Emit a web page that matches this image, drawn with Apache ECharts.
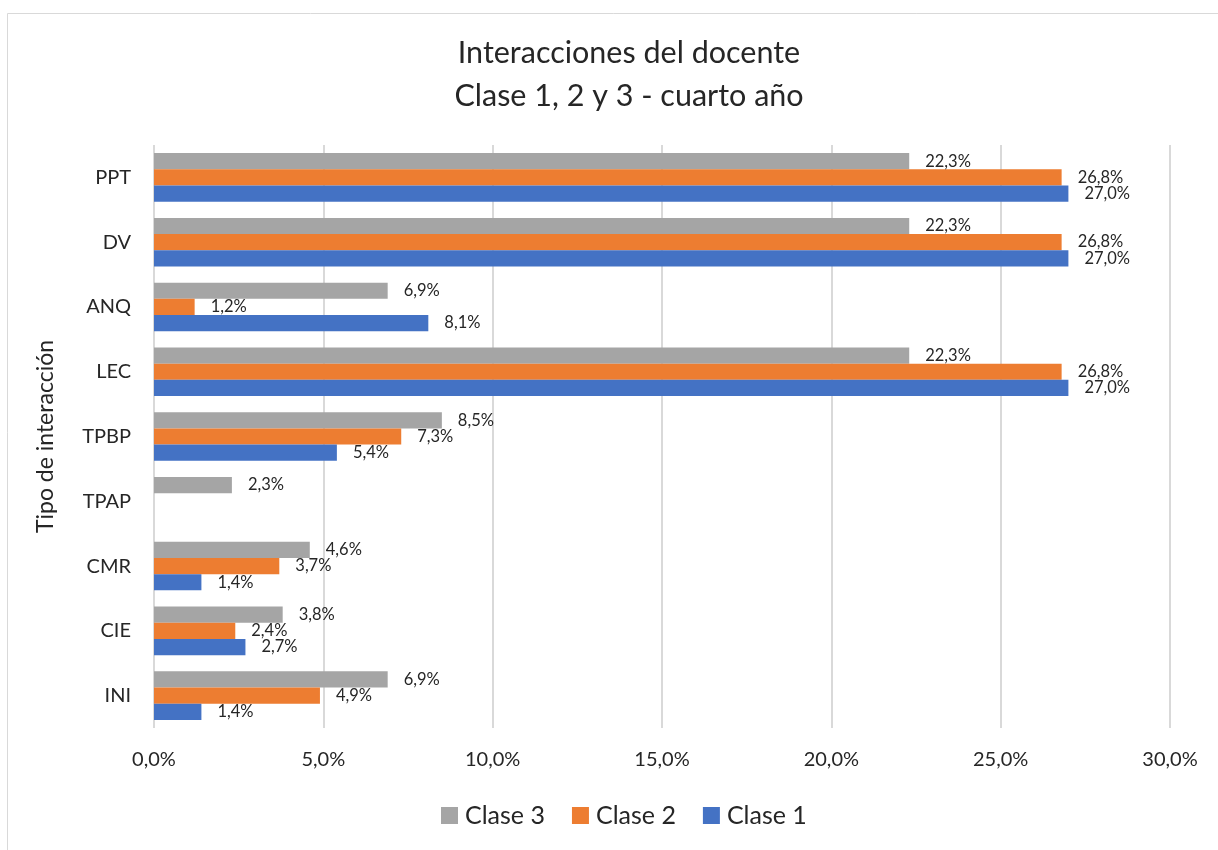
<!DOCTYPE html>
<html>
<head>
<meta charset="utf-8">
<script src="https://cdn.jsdelivr.net/npm/echarts@6/dist/echarts.min.js"></script>
<style>
  html, body { margin: 0; padding: 0; background: #fff; }
  #chart { width: 1218px; height: 850px; }
</style>
</head>
<body>
<div id="chart"></div>
<script>
// categories listed bottom to top, as the value axis draws them
const categories = ['INI', 'CIE', 'CMR', 'TPAP', 'TPBP', 'LEC', 'ANQ', 'DV', 'PPT']
const clase1 = [1.4, 2.7, 1.4, null, 5.4, 27.0, 8.1, 27.0, 27.0]
const clase2 = [4.9, 2.4, 3.7, null, 7.3, 26.8, 1.2, 26.8, 26.8]
const clase3 = [6.9, 3.8, 4.6, 2.3, 8.5, 22.3, 6.9, 22.3, 22.3]
const legendOrder = ['Clase 3', 'Clase 2', 'Clase 1']

const Colors = { 'Clase 1': '#4472C4', 'Clase 2': '#ED7D31', 'Clase 3': '#A5A5A5' }
const textColor = '#262626'
const font = 'Lato, "Open Sans", sans-serif'

function pct(v) {
  return v.toFixed(1).replace('.', ',') + '%'
}

function barSeries(name, data) {
  return {
    name: name,
    type: 'bar',
    data: data,
    barGap: '0%',
    barCategoryGap: '25%',
    itemStyle: { color: Colors[name] },
    label: {
      show: true,
      position: 'right',
      distance: 16,
      color: textColor,
      fontFamily: font,
      fontSize: 16.5,
      formatter: p => (p.value == null ? '' : pct(p.value))
    }
  }
}

const chart = echarts.init(document.getElementById('chart'))

chart.setOption({
  backgroundColor: '#fff',
  animation: false,
  graphic: [{
    type: 'rect',
    shape: { x: 7.5, y: 13.5, width: 1300, height: 900 },
    style: { fill: 'none', stroke: '#d9d9d9', lineWidth: 1 },
    silent: true
  }],
  title: {
    text: 'Interacciones del docente\nClase 1, 2 y 3 - cuarto año',
    left: 624,
    textAlign: 'center',
    top: 27,
    textStyle: {
      color: textColor,
      fontFamily: font,
      fontWeight: 'normal',
      fontSize: 30.5,
      lineHeight: 43
    }
  },
  legend: {
    data: legendOrder,
    top: 798,
    left: 436,
    icon: 'rect',
    itemWidth: 17,
    itemHeight: 17,
    itemGap: 27,
    textStyle: {
      color: textColor,
      fontFamily: font,
      fontSize: 25,
      padding: [0, 0, 0, 2]
    }
  },
  grid: {
    left: 154,
    right: 48,
    top: 145,
    bottom: 122,
    containLabel: false
  },
  xAxis: {
    type: 'value',
    min: 0,
    max: 30,
    interval: 5,
    axisLine: { show: false },
    axisTick: { show: false },
    splitLine: { lineStyle: { color: '#d9d9d9', width: 2 } },
    axisLabel: {
      margin: 22,
      color: textColor,
      fontFamily: font,
      fontSize: 20,
      formatter: v => pct(v)
    }
  },
  yAxis: {
    type: 'category',
    data: categories,
    name: 'Tipo de interacción',
    nameLocation: 'middle',
    nameGap: 97,
    nameTextStyle: {
      color: textColor,
      fontFamily: font,
      fontSize: 23
    },
    axisLine: { show: false },
    axisTick: { show: false },
    axisLabel: {
      margin: 23,
      color: textColor,
      fontFamily: font,
      fontSize: 20
    }
  },
  // series listed top to bottom within each category
  series: [
    barSeries('Clase 3', clase3),
    barSeries('Clase 2', clase2),
    barSeries('Clase 1', clase1)
  ]
})
</script>
</body>
</html>
